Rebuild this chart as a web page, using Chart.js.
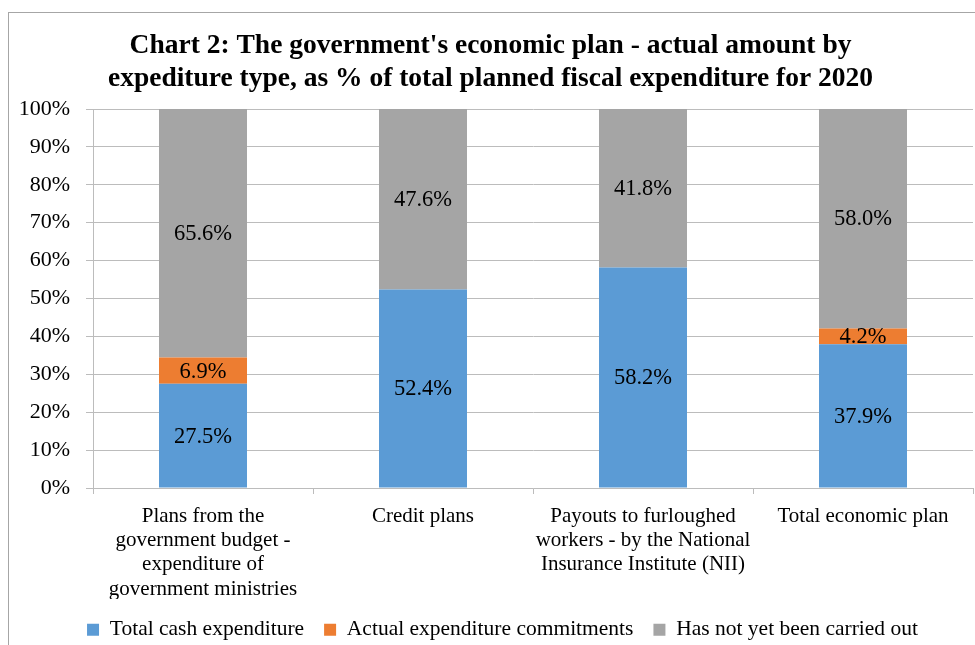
<!DOCTYPE html>
<html>
<head>
<meta charset="utf-8">
<script src="https://cdn.jsdelivr.net/npm/chart.js@4"></script>
<style>
  html, body { margin: 0; padding: 0; background: #ffffff; }
  #wrap { width: 975px; height: 645px; }
</style>
</head>
<body>
<div id="wrap"><canvas id="expChart" width="975" height="645"></canvas></div>
<script>
// --- Data ---
const categories = [
    ["Plans from the", "government budget -", "expenditure of", "government ministries"],
    ["Credit plans"],
    ["Payouts to furloughed", "workers - by the National", "Insurance Institute (NII)"],
    ["Total economic plan"],
];
const cashExpenditure = [27.5, 52.4, 58.2, 37.9];
const commitments = [6.9, null, null, 4.2];
const notCarriedOut = [65.6, 47.6, 41.8, 58.0];
const yTicks = [0, 10, 20, 30, 40, 50, 60, 70, 80, 90, 100];

const SERIF = "'Liberation Serif', 'Times New Roman', serif";
const GRID = "#bcbcbc";

// --- Plugins ---
// outer chart frame, cropped at right and bottom like the reference
const framePlugin = {
    id: "frame",
    beforeDraw(chart) {
        const c = chart.ctx;
        c.save();
        c.strokeStyle = "#a6a6a6";
        c.lineWidth = 1;
        c.strokeRect(8.5, 12.5, chart.width + 20, chart.height + 20);
        c.restore();
    },
};

// legend sits a bit right of centre in the reference
const legendShift = {
    id: "legendShift",
    afterLayout(chart) {
        chart.legend.left += 12;
        chart.legend.right += 12;
    },
};

// value labels in the middle of each stacked segment
const valueLabels = {
    id: "valueLabels",
    afterDatasetsDraw(chart) {
        const c = chart.ctx;
        c.save();
        c.font = "22.5px " + SERIF;
        c.fillStyle = "#000000";
        c.textAlign = "center";
        c.textBaseline = "middle";
        chart.data.datasets.forEach((ds, i) => {
            const meta = chart.getDatasetMeta(i);
            meta.data.forEach((bar, j) => {
                const v = ds.data[j];
                if (v === null || v === undefined) return;
                const p = bar.getProps(["x", "y", "base"], true);
                c.fillText(v.toFixed(1) + "%", p.x, (p.y + p.base) / 2 + 1);
            });
        });
        c.restore();
    },
};

// --- Chart ---
const ctx = document.getElementById("expChart").getContext("2d");
const expChart = new Chart(ctx, {
    type: "bar",
    data: {
        labels: categories,
        datasets: [
            { label: "Total cash expenditure", data: cashExpenditure, backgroundColor: "#5b9bd5" },
            { label: "Actual expenditure commitments", data: commitments, backgroundColor: "#ed7d31" },
            { label: "Has not yet been carried out", data: notCarriedOut, backgroundColor: "#a5a5a5" },
        ],
    },
    options: {
        responsive: false,
        animation: false,
        barPercentage: 0.4,
        categoryPercentage: 1.0,
        layout: { padding: { left: 8, right: 2, top: 0, bottom: -5.5 } },
        scales: {
            x: {
                stacked: true,
                grid: {
                    offset: true,
                    drawOnChartArea: false,
                    drawTicks: true,
                    tickLength: 6,
                    color: GRID,
                },
                border: { color: GRID },
                ticks: {
                    color: "#000000",
                    font: { family: SERIF, size: 21, lineHeight: 1.16 },
                    padding: 10,
                    maxRotation: 0,
                    autoSkip: false,
                },
                afterFit: (scale) => { scale.height = 111; },
            },
            y: {
                stacked: true,
                min: 0,
                max: 100,
                afterBuildTicks: (scale) => { scale.ticks = yTicks.map(v => ({ value: v })); },
                grid: { color: GRID, tickLength: 7 },
                border: { color: GRID },
                ticks: {
                    color: "#000000",
                    font: { family: SERIF, size: 22 },
                    padding: 16,
                    callback: v => v + "%",
                },
                afterFit: (scale) => { scale.width = 85; },
            },
        },
        plugins: {
            title: {
                display: true,
                text: [
                    "Chart 2: The government's economic plan - actual amount by",
                    "expediture type, as % of total planned fiscal expenditure for 2020",
                ],
                color: "#000000",
                font: { family: SERIF, size: 27.5, weight: "bold", lineHeight: 1.2 },
                padding: { top: 29, bottom: 14 },
            },
            legend: {
                position: "bottom",
                labels: {
                    color: "#000000",
                    font: { family: SERIF, size: 21.5 },
                    boxWidth: 12,
                    boxHeight: 12,
                    padding: 20,
                },
            },
            tooltip: { enabled: false },
        },
    },
    plugins: [framePlugin, legendShift, valueLabels],
});
</script>
</body>
</html>
